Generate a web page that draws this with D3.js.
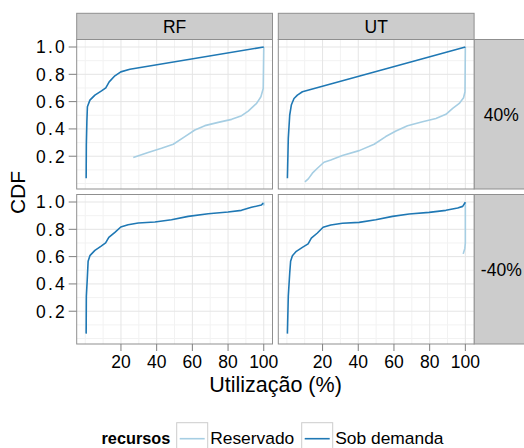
<!DOCTYPE html>
<html>
<head>
<meta charset="utf-8">
<script src="https://cdn.jsdelivr.net/npm/d3@7"></script>
<style>
body {margin: 0; background: white;}
text {font-family: "Liberation Sans", Arial, sans-serif; fill: black;}
</style>
</head>
<body>
<script>
// facets
var cols = ["RF", "UT"];
var rows = ["40%", "-40%"];
var series = ["Reservado", "Sob demanda"];
var colors = ["#a6cee3", "#1f78b4"];

var xTicks = [20, 40, 60, 80, 100];
var xMinor = [0, 10, 30, 50, 70, 90];
var yTicks = [0.2, 0.4, 0.6, 0.8, 1.0];
var yMinor = [0.0, 0.1, 0.3, 0.5, 0.7, 0.9];

// [utilizacao, cdf]
var rf40Reservado = [[26.9,0.19],[35.2,0.227],[42.7,0.258],[49.3,0.288],[55.8,0.344],[61.4,0.392],[67,0.424],[74.5,0.448],[82,0.47],[87.6,0.497],[91.3,0.531],[96,0.587],[98.4,0.636],[99.7,0.696],[100,1.0]];
var rf40SobDemanda = [[0.5,0.039],[0.6,0.283],[0.9,0.453],[1.2,0.563],[2.6,0.611],[5.4,0.648],[9.1,0.679],[11.5,0.701],[13.4,0.745],[16.6,0.789],[19.9,0.818],[25,0.837],[100,1.0]];
var ut40Reservado = [[10.1,0.012],[12,0.034],[14.3,0.076],[17.1,0.112],[20.8,0.156],[24.6,0.173],[31.1,0.205],[40.5,0.241],[48.9,0.288],[55.4,0.344],[61.1,0.385],[67.6,0.424],[76,0.453],[83.5,0.477],[89.1,0.507],[92.9,0.55],[96.6,0.587],[99,0.628],[99.8,0.672],[100,1.0]];
var ut40SobDemanda = [[0.3,0.039],[0.8,0.331],[1.6,0.502],[2.5,0.575],[4,0.623],[5.9,0.648],[8.7,0.672],[100,1.0]];
var rfM40Reservado = [[100,0.975],[100,0.998]];
var rfM40SobDemanda = [[0.5,0.036],[0.6,0.31],[1.1,0.431],[1.6,0.566],[2.6,0.607],[5.4,0.646],[8.7,0.675],[11.4,0.70],[13.2,0.741],[16.6,0.778],[19.9,0.817],[24,0.834],[29.7,0.846],[39,0.854],[48.3,0.87],[57.7,0.895],[68.9,0.914],[80,0.927],[87.5,0.939],[93.1,0.961],[98.7,0.978],[99.7,0.992]];
var utM40Reservado = [[98.8,0.62],[99.7,0.66],[100,0.70],[100,1.0]];
var utM40SobDemanda = [[0.3,0.036],[0.8,0.31],[1.6,0.48],[2.1,0.566],[3.1,0.607],[5.3,0.639],[8.7,0.668],[11.9,0.693],[13.7,0.736],[17.1,0.773],[20.3,0.815],[24.6,0.832],[31.1,0.844],[40.5,0.851],[49.8,0.87],[59.2,0.895],[68.5,0.912],[79.7,0.924],[89.1,0.939],[95.7,0.956],[98.5,0.968],[100,0.998]];

var panels = [
  {col: 0, row: 0, lines: [rf40Reservado, rf40SobDemanda]},
  {col: 1, row: 0, lines: [ut40Reservado, ut40SobDemanda]},
  {col: 0, row: 1, lines: [rfM40Reservado, rfM40SobDemanda]},
  {col: 1, row: 1, lines: [utM40Reservado, utM40SobDemanda]}
];

var colX = [76.7, 278.3], pw = 195.8;
var rowY = [39.5, 194.5], ph = 149.5;

var x = d3.scaleLinear().domain([-4.8, 104.9]).range([0, pw]);
var y = d3.scaleLinear().domain([-0.04, 1.055]).range([ph, 0]);
var line = d3.line().x(function(d){return x(d[0]);}).y(function(d){return y(d[1]);});

var svg = d3.select('body').append('svg')
  .attr('width', 524).attr('height', 448);

var border = '#8f8f8f';

// top strips
cols.forEach(function(c, i) {
  svg.append('rect').attr('x', colX[i]).attr('y', 13.3).attr('width', pw).attr('height', 26.2)
    .style('fill', '#cccccc').style('stroke', border);
  svg.append('text').attr('x', colX[i] + pw / 2).attr('y', 33)
    .style('text-anchor', 'middle').style('font-size', '17.5px').text(c);
});
// right strips
rows.forEach(function(r, i) {
  svg.append('rect').attr('x', colX[1] + pw).attr('y', rowY[i]).attr('width', 56).attr('height', ph)
    .style('fill', '#cccccc').style('stroke', border);
  svg.append('text').attr('x', colX[1] + pw + 27.2).attr('y', rowY[i] + ph / 2 + 6.5)
    .style('text-anchor', 'middle').style('font-size', '17.5px').text(r);
});

panels.forEach(function(p, k) {
  var g = svg.append('g').attr('transform', 'translate(' + colX[p.col] + ',' + rowY[p.row] + ')');
  g.append('rect').attr('width', pw).attr('height', ph).style('fill', 'white');
  g.append('clipPath').attr('id', 'clip' + k).append('rect').attr('width', pw).attr('height', ph);

  g.selectAll('.vmin').data(xMinor).enter().append('line')
    .attr('x1', x).attr('x2', x).attr('y1', 0).attr('y2', ph)
    .style('stroke', '#f2f2f2').style('stroke-width', 1);
  g.selectAll('.hmin').data(yMinor).enter().append('line')
    .attr('y1', y).attr('y2', y).attr('x1', 0).attr('x2', pw)
    .style('stroke', '#f2f2f2').style('stroke-width', 1);
  g.selectAll('.vmaj').data(xTicks).enter().append('line')
    .attr('x1', x).attr('x2', x).attr('y1', 0).attr('y2', ph)
    .style('stroke', '#e5e5e5').style('stroke-width', 1);
  g.selectAll('.hmaj').data(yTicks).enter().append('line')
    .attr('y1', y).attr('y2', y).attr('x1', 0).attr('x2', pw)
    .style('stroke', '#e5e5e5').style('stroke-width', 1);

  p.lines.forEach(function(d, s) {
    g.append('path').datum(d).attr('d', line)
      .attr('clip-path', 'url(#clip' + k + ')')
      .style('fill', 'none').style('stroke', colors[s]).style('stroke-width', 1.6)
      .style('stroke-linejoin', 'round');
  });

  g.append('rect').attr('width', pw).attr('height', ph)
    .style('fill', 'none').style('stroke', border);

  // y axis on left column
  if (p.col == 0) {
    g.selectAll('.yt').data(yTicks).enter().append('line')
      .attr('x1', -8).attr('x2', 0).attr('y1', y).attr('y2', y)
      .style('stroke', '#7f7f7f');
    g.selectAll('.yl').data(yTicks).enter().append('text')
      .attr('x', -9.8).attr('y', y).attr('dy', '0.36em')
      .style('text-anchor', 'end').style('font-size', '17.5px')
      .style('letter-spacing', '2.2px')
      .text(d3.format('.1f'));
  }
  // x axis on bottom row
  if (p.row == 1) {
    g.selectAll('.xt').data(xTicks).enter().append('line')
      .attr('x1', x).attr('x2', x).attr('y1', ph).attr('y2', ph + 7)
      .style('stroke', '#7f7f7f');
    g.selectAll('.xl').data(xTicks).enter().append('text')
      .attr('x', x).attr('y', ph + 24)
      .style('text-anchor', 'middle').style('font-size', '17.5px')
      .text(function(d){return d;});
  }
});

// axis titles
svg.append('text').attr('x', 275.5).attr('y', 391.5)
  .style('text-anchor', 'middle').style('font-size', '21.5px')
  .text('Utilização (%)');
svg.append('text').attr('transform', 'translate(24.5,192.5)rotate(-90)')
  .style('text-anchor', 'middle').style('font-size', '21px')
  .text('CDF');

// legend
svg.append('text').attr('x', 101.5).attr('y', 444.3)
  .style('font-size', '16.3px').style('font-weight', 'bold').text('recursos');
var keyX = [176.7, 301.7];
series.forEach(function(s, i) {
  svg.append('rect').attr('x', keyX[i]).attr('y', 422.7).attr('width', 31).attr('height', 31)
    .style('fill', 'white').style('stroke', '#cccccc');
  svg.append('line').attr('x1', keyX[i] + 3).attr('x2', keyX[i] + 28)
    .attr('y1', 438.7).attr('y2', 438.7)
    .style('stroke', colors[i]).style('stroke-width', 1.6);
  svg.append('text').attr('x', keyX[i] + 33.5).attr('y', 444.3)
    .style('font-size', '17.4px').text(s);
});
</script>
</body>
</html>
